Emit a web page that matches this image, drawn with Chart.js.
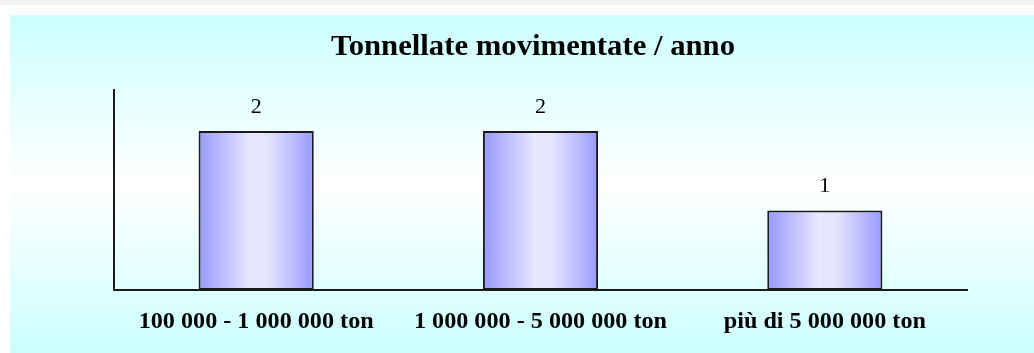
<!DOCTYPE html>
<html>
<head>
<meta charset="utf-8">
<script src="https://cdn.jsdelivr.net/npm/chart.js@4/dist/chart.umd.min.js"></script>
<style>
  html, body { margin: 0; padding: 0; }
  body { width: 1034px; height: 353px; background: #ffffff; position: relative; overflow: hidden; }
  #topband { position: absolute; left: 0; top: 0; width: 1034px; height: 5px; background: #f2f2f2; }
  #panel { position: absolute; left: 10px; top: 15px; width: 1024px; height: 338px;
           background: linear-gradient(to bottom, #ccffff 0%, #ffffff 50%, #ccffff 100%); }
  #wrap { position: absolute; left: 0; top: 0; width: 1034px; height: 353px; }
</style>
</head>
<body>
<div id="topband"></div>
<div id="panel"></div>
<div id="wrap"><canvas id="c" width="1034" height="353"></canvas></div>
<script>
const categories = ['100 000 - 1 000 000 ton', '1 000 000 - 5 000 000 ton', 'più di 5 000 000 ton'];
const portCounts = [2, 2, 1];
const chartTitle = 'Tonnellate movimentate / anno';

const serif = '"Liberation Serif", "Times New Roman", serif';
const BAR_PCT = 0.405;

// Light-centre horizontal gradient spanning one bar
function barGradient(ctx) {
  const chart = ctx.chart;
  const area = chart.chartArea;
  const xs = chart.scales.x;
  if (!area || !xs || ctx.dataIndex === undefined) return '#bbbbff';
  const cx = xs.getPixelForValue(ctx.dataIndex);
  const w = (area.right - area.left) / chart.data.labels.length * BAR_PCT;
  const g = chart.ctx.createLinearGradient(cx - w / 2, 0, cx + w / 2, 0);
  g.addColorStop(0, '#9999ff');
  g.addColorStop(0.3, '#ccccff');
  g.addColorStop(0.45, '#e8e8ff');
  g.addColorStop(0.6, '#e4e4ff');
  g.addColorStop(0.8, '#c0c0ff');
  g.addColorStop(1, '#9999ff');
  return g;
}

// Draws text horizontally scaled by k, centred on x
function scaledText(c, text, x, y, k) {
  c.save();
  c.translate(x, y);
  c.scale(k, 1);
  c.fillText(text, 0, 0);
  c.restore();
}

// Title, category names and bar values
const textLayer = {
  id: 'textLayer',
  afterDraw(chart) {
    const c = chart.ctx;
    const xs = chart.scales.x;
    const ds = chart.data.datasets[0];
    c.save();
    c.fillStyle = '#000';
    c.textAlign = 'center';
    c.textBaseline = 'middle';

    c.font = 'bold 30px ' + serif;
    scaledText(c, chartTitle, 533, 47, 404 / c.measureText(chartTitle).width);

    c.font = 'bold 23px ' + serif;
    const k = 235 / c.measureText(chart.data.labels[0]).width;
    chart.data.labels.forEach((lab, i) => {
      scaledText(c, lab, xs.getPixelForValue(i), 322, k);
    });

    c.font = '22px ' + serif;
    chart.getDatasetMeta(0).data.forEach((el, i) => {
      c.fillText(String(ds.data[i]), el.x, el.y - 24);
    });
    c.restore();
  }
};

new Chart(document.getElementById('c'), {
  type: 'bar',
  data: {
    labels: categories,
    datasets: [{
      data: portCounts,
      backgroundColor: barGradient,
      borderColor: '#1a1a1a',
      borderWidth: 2,
      borderSkipped: false,
      barPercentage: BAR_PCT,
      categoryPercentage: 1
    }]
  },
  options: {
    responsive: false,
    animation: false,
    layout: { padding: { left: 0, right: 67, top: 90, bottom: 63 } },
    plugins: {
      legend: { display: false },
      tooltip: { enabled: false },
      title: { display: false }
    },
    scales: {
      x: {
        grid: { display: false },
        border: { display: true, color: '#1a1a1a', width: 2 },
        ticks: { display: false },
        afterFit(scale) { scale.height = 0; }
      },
      y: {
        min: 0,
        max: 2.516,
        grid: { display: false },
        border: { display: true, color: '#1a1a1a', width: 2 },
        ticks: { display: false },
        afterFit(scale) { scale.width = 114; }
      }
    }
  },
  plugins: [textLayer]
});
</script>
</body>
</html>
